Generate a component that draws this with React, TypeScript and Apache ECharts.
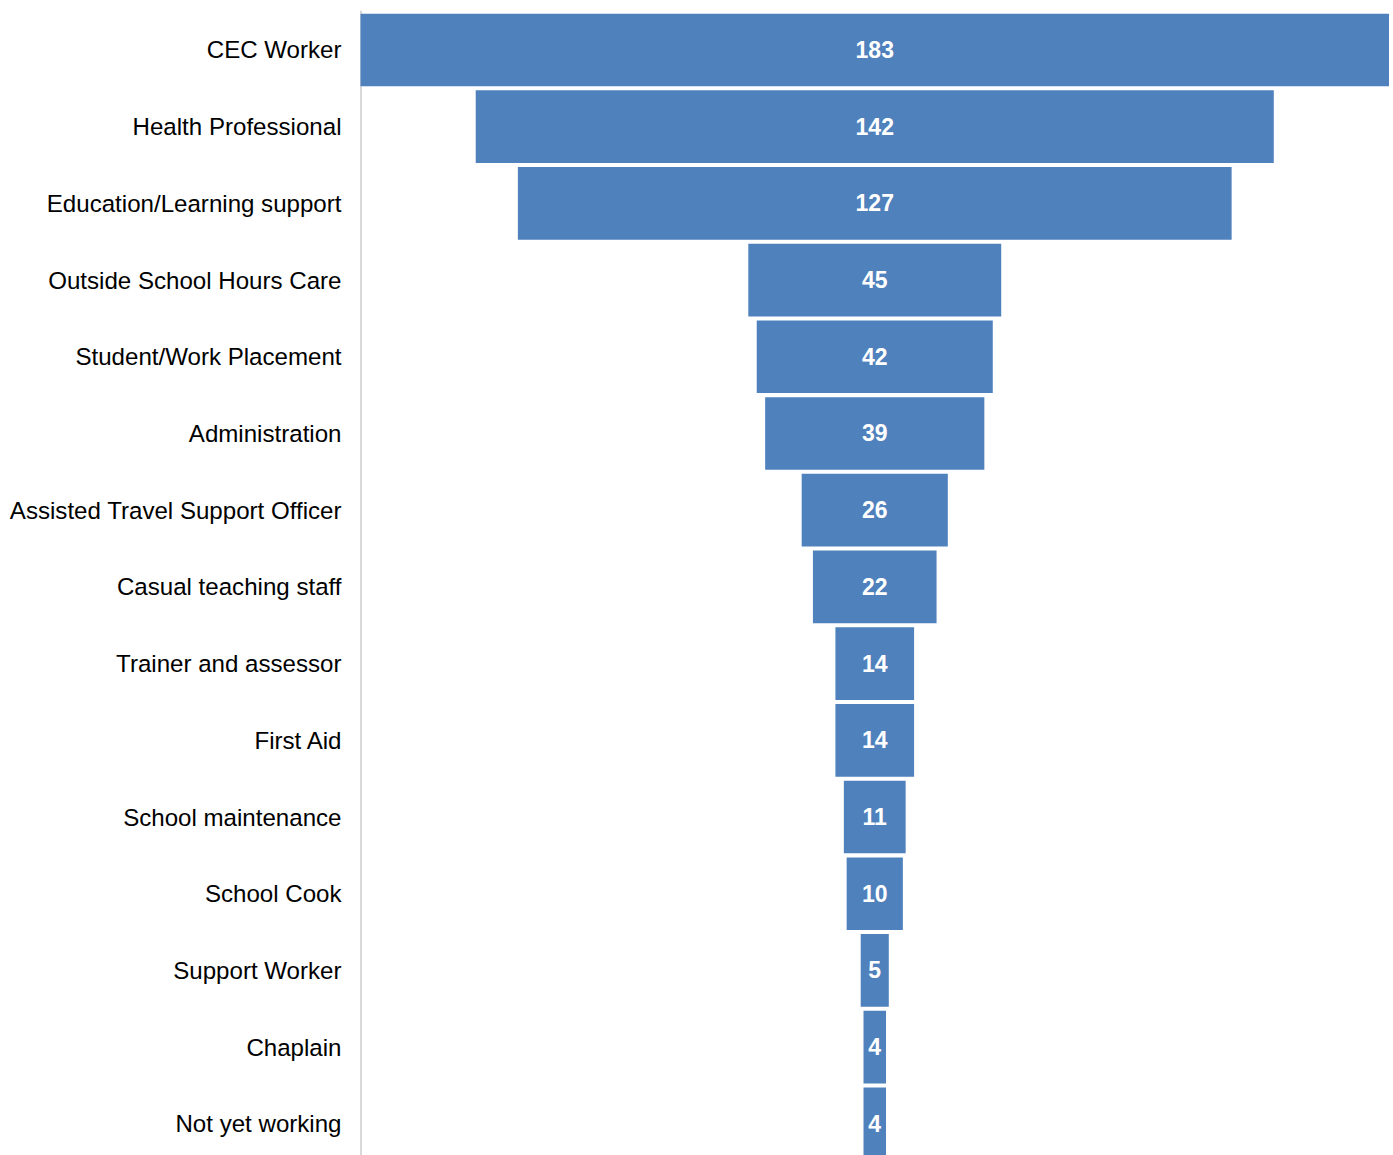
import React, { useEffect, useRef } from "react";
import * as echarts from "echarts";

const categories = [
  "CEC Worker",
  "Health Professional",
  "Education/Learning support",
  "Outside School Hours Care",
  "Student/Work Placement",
  "Administration",
  "Assisted Travel Support Officer",
  "Casual teaching staff",
  "Trainer and assessor",
  "First Aid",
  "School maintenance",
  "School Cook",
  "Support Worker",
  "Chaplain",
  "Not yet working",
];
const values = [183, 142, 127, 45, 42, 39, 26, 22, 14, 14, 11, 10, 5, 4, 4];
const maxValue = 183;

const FONT = 'Arial, "Liberation Sans", sans-serif';

export default function App() {
  const ref = useRef<HTMLDivElement>(null);
  useEffect(() => {
    if (!ref.current) return;
    const chart = echarts.init(ref.current, null, { renderer: "svg" });
    const offsets = values.map((v) => (maxValue - v) / 2);
    chart.setOption({
      animation: false,
      grid: { left: 360.5, right: 4, top: 11.6, bottom: 7.8, containLabel: false },
      xAxis: {
        type: "value",
        min: 0,
        max: maxValue,
        show: false,
      },
      yAxis: {
        type: "category",
        data: categories,
        inverse: true,
        axisLine: { show: true, lineStyle: { color: "#d9d9d9", width: 2 } },
        axisTick: { show: false },
        axisLabel: {
          color: "#000",
          fontSize: 24.1,
          fontFamily: FONT,
          margin: 19,
        },
        splitLine: { show: false },
      },
      series: [
        {
          type: "bar",
          stack: "f",
          data: offsets,
          itemStyle: { color: "transparent" },
          barCategoryGap: "5.3%",
          silent: true,
        },
        {
          type: "bar",
          stack: "f",
          data: values,
          itemStyle: { color: "#4f81bd" },
          barCategoryGap: "5.3%",
          label: {
            show: true,
            position: "inside",
            color: "#fff",
            fontWeight: "bold",
            fontSize: 23,
            fontFamily: FONT,
          },
        },
      ],
    });
    return () => chart.dispose();
  }, []);
  return (
    <div
      ref={ref}
      style={{ position: "absolute", left: 0, top: 0, width: 1393, height: 1170 }}
    />
  );
}
